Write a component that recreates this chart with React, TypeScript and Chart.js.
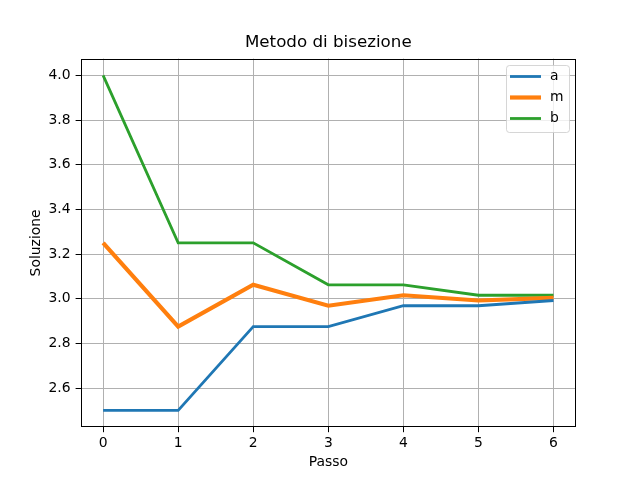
import React, { useEffect, useRef } from "react";
import { Chart, registerables } from "chart.js";

Chart.register(...registerables);

const steps = [0, 1, 2, 3, 4, 5, 6];
const aValues = [2.5, 2.5, 2.875, 2.875, 2.96875, 2.96875, 2.9921875];
const mValues = [3.25, 2.875, 3.0625, 2.96875, 3.015625, 2.9921875, 3.00390625];
const bValues = [4.0, 3.25, 3.25, 3.0625, 3.0625, 3.015625, 3.015625];
const xTicks = [0, 1, 2, 3, 4, 5, 6];
const yTicks = [2.6, 2.8, 3.0, 3.2, 3.4, 3.6, 3.8, 4.0];
const seriesNames = ["a", "m", "b"];
const seriesColors = ["#1f77b4", "#ff7f0e", "#2ca02c"];
const seriesWidths = [2.8, 4.2, 2.8];
const chartTitle = "Metodo di bisezione";
const xTitle = "Passo";
const yTitle = "Soluzione";

const FONT = "'DejaVu Sans', sans-serif";

export default function App() {
  const ref = useRef<HTMLCanvasElement | null>(null);
  useEffect(() => {
    if (!ref.current) return;
    const toPts = (vals: number[]) => steps.map((s, i) => ({ x: s, y: vals[i] }));
    const allVals = [aValues, mValues, bValues];
    const overlay = {
      id: "overlay",
      afterDraw(chart: any) {
        const ctx = chart.ctx as CanvasRenderingContext2D;
        const ca = chart.chartArea;
        ctx.save();
        // spines
        ctx.strokeStyle = "#000";
        ctx.lineWidth = 1;
        const L = Math.round(ca.left) + 0.5, T = Math.round(ca.top) + 0.5;
        const R = Math.round(ca.right) - 0.5, B = Math.round(ca.bottom) - 0.5;
        ctx.strokeRect(L, T, R - L, B - T);
        // title
        ctx.fillStyle = "#000";
        ctx.textAlign = "center";
        ctx.textBaseline = "middle";
        ctx.font = `16.7px ${FONT}`;
        const cx = (ca.left + ca.right) / 2;
        ctx.fillText(chartTitle, cx, 43);
        ctx.font = `13.9px ${FONT}`;
        ctx.fillText(xTitle, cx, 462);
        ctx.save();
        ctx.translate(36, (ca.top + ca.bottom) / 2);
        ctx.rotate(-Math.PI / 2);
        ctx.fillText(yTitle, 0, 0);
        ctx.restore();
        // legend
        const lx = 506.5, ly = 65.5, lw = 63, lh = 67, r = 3;
        ctx.beginPath();
        ctx.moveTo(lx + r, ly);
        ctx.lineTo(lx + lw - r, ly);
        ctx.quadraticCurveTo(lx + lw, ly, lx + lw, ly + r);
        ctx.lineTo(lx + lw, ly + lh - r);
        ctx.quadraticCurveTo(lx + lw, ly + lh, lx + lw - r, ly + lh);
        ctx.lineTo(lx + r, ly + lh);
        ctx.quadraticCurveTo(lx, ly + lh, lx, ly + lh - r);
        ctx.lineTo(lx, ly + r);
        ctx.quadraticCurveTo(lx, ly, lx + r, ly);
        ctx.closePath();
        ctx.fillStyle = "rgba(255,255,255,0.8)";
        ctx.fill();
        ctx.strokeStyle = "rgba(204,204,204,0.8)";
        ctx.lineWidth = 1;
        ctx.stroke();
        seriesNames.forEach((name, i) => {
          const y = 76.5 + i * 21;
          ctx.beginPath();
          ctx.strokeStyle = seriesColors[i];
          ctx.lineWidth = seriesWidths[i];
          ctx.moveTo(510, y);
          ctx.lineTo(541, y);
          ctx.stroke();
          ctx.fillStyle = "#000";
          ctx.textAlign = "left";
          ctx.textBaseline = "middle";
          ctx.font = `13.9px ${FONT}`;
          ctx.fillText(name, 550, y);
        });
        ctx.restore();
      },
    };
    const chart = new Chart(ref.current, {
      type: "line",
      data: {
        datasets: seriesNames.map((name, i) => ({
          label: name,
          data: toPts(allVals[i]),
          borderColor: seriesColors[i],
          backgroundColor: seriesColors[i],
          borderWidth: seriesWidths[i],
          pointRadius: 0,
          tension: 0,
          fill: false,
        })),
      },
      options: {
        animation: false,
        responsive: false,
        devicePixelRatio: 1,
        layout: { padding: { top: 58.6, right: 64, left: 0, bottom: 0 } },
        plugins: { legend: { display: false }, title: { display: false }, tooltip: { enabled: false } },
        scales: {
          x: {
            type: "linear",
            min: -0.3,
            max: 6.3,
            afterBuildTicks: (s: any) => {
              s.ticks = xTicks.map((v) => ({ value: v }));
            },
            afterFit: (s: any) => {
              s.height = 52.8;
            },
            ticks: {
              color: "#000",
              font: { family: FONT, size: 13.9 },
              padding: 3,
              maxRotation: 0,
              callback: (v: any) => String(v),
            },
            grid: { color: "#b0b0b0", lineWidth: 1, tickColor: "#000", tickLength: 5 },
            border: { display: false },
          },
          y: {
            type: "linear",
            min: 2.425,
            max: 4.075,
            afterBuildTicks: (s: any) => {
              s.ticks = yTicks.map((v) => ({ value: v }));
            },
            afterFit: (s: any) => {
              s.width = 80.6;
            },
            ticks: {
              color: "#000",
              font: { family: FONT, size: 13.9 },
              padding: 5,
              callback: (v: any) => Number(v).toFixed(1),
            },
            grid: { color: "#b0b0b0", lineWidth: 1, tickColor: "#000", tickLength: 5 },
            border: { display: false },
          },
        },
      },
      plugins: [overlay],
    } as any);
    return () => chart.destroy();
  }, []);
  return (
    <div style={{ position: "absolute", left: 0, top: 0, width: 640, height: 480, background: "#fff" }}>
      <canvas ref={ref} width={640} height={480} style={{ width: 640, height: 480 }} />
    </div>
  );
}
